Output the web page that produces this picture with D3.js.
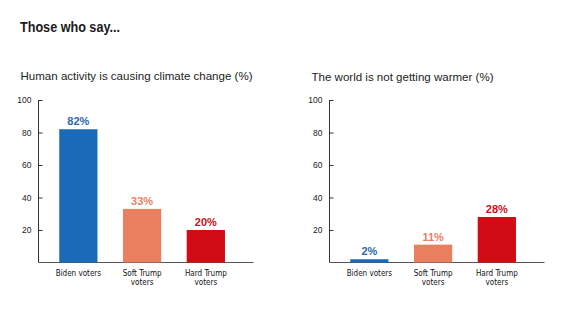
<!DOCTYPE html>
<html>
<head>
<meta charset="utf-8">
<script src="https://d3js.org/d3.v7.min.js"></script>
<style>
  body { margin: 0; background: #fff; }
  svg { display: block; font-family: 'Liberation Sans', Arial, sans-serif; }
</style>
</head>
<body>
<svg id="svg" width="580" height="327"></svg>
<script>
var groups = ["Biden voters", "Soft Trump voters", "Hard Trump voters"];
var groupLines = [["Biden voters"], ["Soft Trump", "voters"], ["Hard Trump", "voters"]];
var humanActivity = [82, 33, 20];
var notWarmer = [2, 11, 28];
var yTicks = [20, 40, 60, 80, 100];
var colors = ["#1a6ab8", "#e97f5f", "#d20c14"];
var labelColors = ["#2a68b0", "#e97f5f", "#cc1016"];

var svg = d3.select("svg");

svg.append("text")
    .attr("x", 20).attr("y", 31.5)
    .attr("font-size", 15).attr("font-weight", "bold")
    .attr("fill", "#1a1a1a")
    .attr("textLength", 100).attr("lengthAdjust", "spacingAndGlyphs")
    .text("Those who say...");

function drawChart(x0, title, titleY, titleW, values) {
    var g = svg.append("g").attr("transform", "translate(" + x0 + ",0)");

    g.append("text")
        .attr("x", -18).attr("y", titleY)
        .attr("font-size", 11.5).attr("fill", "#222")
        .attr("textLength", titleW).attr("lengthAdjust", "spacingAndGlyphs")
        .text(title);

    var y = d3.scaleLinear().domain([0, 100]).range([262.5, 100]);
    var x = d3.scaleBand().domain(groups).range([8, 199.2]).paddingInner(0.4).paddingOuter(0.2);

    // y axis with ticks pointing into the plot
    var yAxis = d3.axisLeft(y).tickValues(yTicks).tickSize(-4).tickPadding(7);
    var ya = g.append("g").call(yAxis);
    ya.select(".domain").attr("d", "M0," + y(0) + "V" + y(100)).attr("stroke", "#333");
    ya.selectAll(".tick line").attr("stroke", "#333");
    ya.selectAll(".tick text").attr("font-size", 8.5).attr("fill", "#222")
        .style("font-family", "'Liberation Sans', Arial, sans-serif");

    g.append("line")
        .attr("x1", 0).attr("x2", 215)
        .attr("y1", y(0)).attr("y2", y(0))
        .attr("stroke", "#555").attr("stroke-width", 1);

    g.selectAll("rect.bar").data(values).enter().append("rect")
        .attr("class", "bar")
        .attr("x", function(d, i) { return x(groups[i]); })
        .attr("width", x.bandwidth())
        .attr("y", function(d) { return y(d); })
        .attr("height", function(d) { return y(0) - y(d); })
        .attr("fill", function(d, i) { return colors[i]; });

    g.selectAll("text.val").data(values).enter().append("text")
        .attr("class", "val")
        .attr("x", function(d, i) { return x(groups[i]) + x.bandwidth() / 2; })
        .attr("y", function(d) { return y(d) - 4; })
        .attr("text-anchor", "middle")
        .attr("font-size", 11).attr("font-weight", "bold")
        .attr("fill", function(d, i) { return labelColors[i]; })
        .text(function(d) { return d + "%"; });

    groupLines.forEach(function(lines, i) {
        var t = g.append("text")
            .attr("x", x(groups[i]) + x.bandwidth() / 2)
            .attr("y", 276)
            .attr("text-anchor", "middle")
            .attr("font-size", 8).attr("fill", "#111")
            .style("font-family", "'DejaVu Sans Condensed', sans-serif");
        lines.forEach(function(line, j) {
            t.append("tspan")
                .attr("x", x(groups[i]) + x.bandwidth() / 2)
                .attr("dy", j === 0 ? 0 : 9)
                .text(line);
        });
    });
}

drawChart(38.5, "Human activity is causing climate change (%)", 79.5, 232, humanActivity);
drawChart(329.5, "The world is not getting warmer (%)", 81, 182, notWarmer);
</script>
</body>
</html>
